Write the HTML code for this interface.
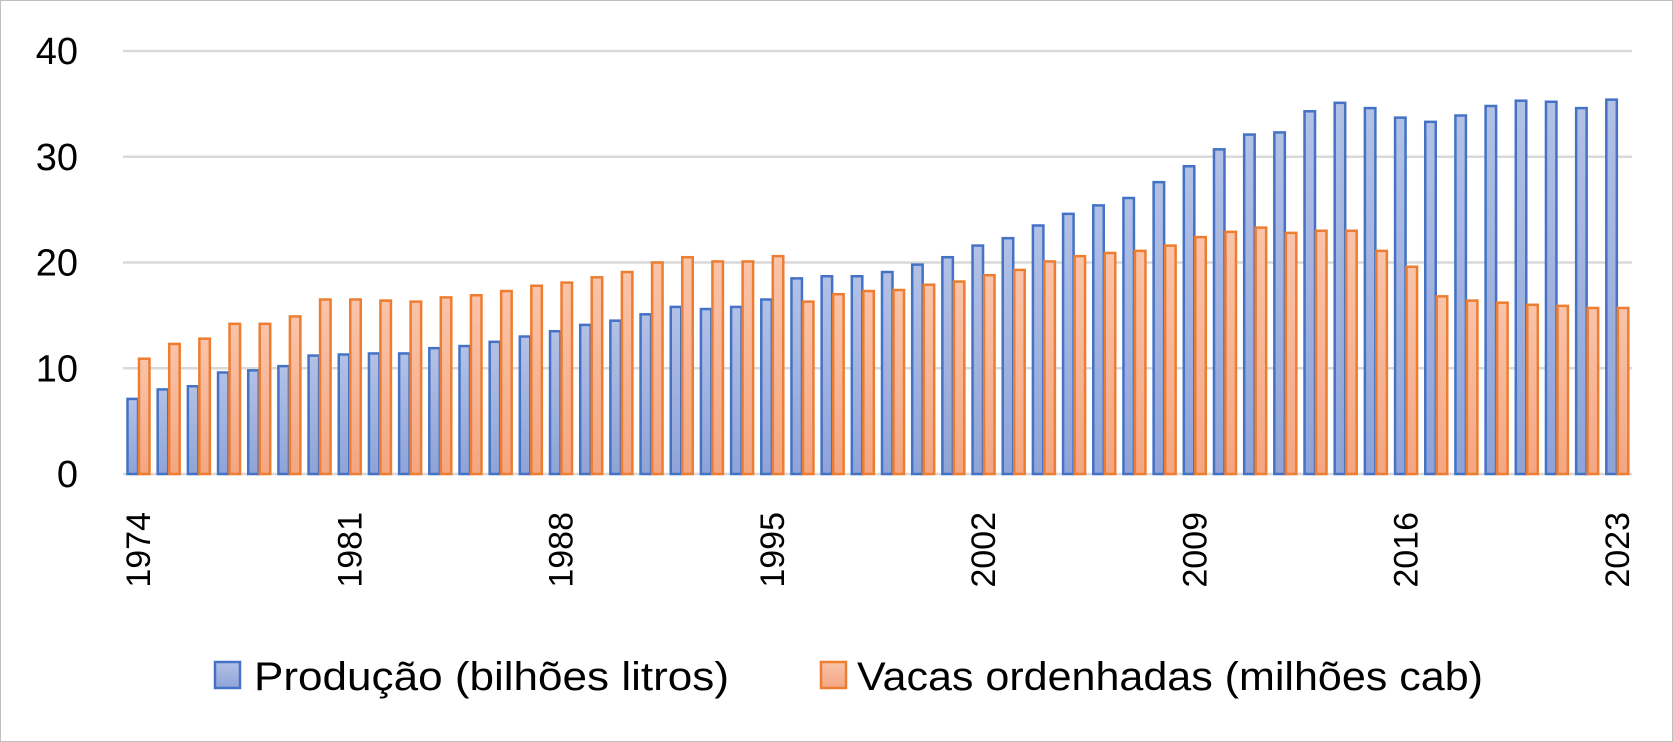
<!DOCTYPE html>
<html><head><meta charset="utf-8"><style>
html,body{margin:0;padding:0;background:#fff}
svg{display:block}
text{font-family:"Liberation Sans",sans-serif;fill:#000}
</style></head><body>
<svg id="c" width="1673" height="742" xmlns="http://www.w3.org/2000/svg">
<defs>
<linearGradient id="gb" x1="0" y1="0" x2="0" y2="1"><stop offset="0" stop-color="#b3c1e6"/><stop offset="1" stop-color="#8fa3d8"/></linearGradient>
<linearGradient id="go" x1="0" y1="0" x2="0" y2="1"><stop offset="0" stop-color="#f9c4aa"/><stop offset="1" stop-color="#f4a682"/></linearGradient>
</defs>
<rect x="0.5" y="0.5" width="1672" height="741" fill="#fff" stroke="#bfbfbf"/>
<g id="g"></g>
</svg>
<script>
var B=[7.1,8.0,8.3,9.6,9.8,10.2,11.2,11.3,11.4,11.4,11.9,12.1,12.5,13.0,13.5,14.1,14.5,15.1,15.8,15.6,15.8,16.5,18.5,18.7,18.7,19.1,19.8,20.5,21.6,22.3,23.5,24.6,25.4,26.1,27.6,29.1,30.7,32.1,32.3,34.3,35.1,34.6,33.7,33.3,33.9,34.8,35.3,35.2,34.6,35.4];
var O=[10.9,12.3,12.8,14.2,14.2,14.9,16.5,16.5,16.4,16.3,16.7,16.9,17.3,17.8,18.1,18.6,19.1,20.0,20.5,20.1,20.1,20.6,16.3,17.0,17.3,17.4,17.9,18.2,18.8,19.3,20.1,20.6,20.9,21.1,21.6,22.4,22.9,23.3,22.8,23.0,23.0,21.1,19.6,16.8,16.4,16.2,16.0,15.9,15.7,15.7];
var L=123,R=1632,Y0=474,S=10.575,W=(R-L)/50,s='';
for(var v=0;v<=40;v+=10){var y=Y0-v*S;s+='<line x1="'+L+'" x2="'+R+'" y1="'+y+'" y2="'+y+'" stroke="#d9d9d9" stroke-width="2.5"/>';
s+='<text x="78" y="'+(y+13)+'" font-size="38" text-anchor="end">'+v+'</text>';}
for(var i=0;i<50;i++){var x=L+i*W+4.5,bw=10.5;
var h=B[i]*S;s+='<rect x="'+x+'" y="'+(Y0-h)+'" width="'+bw+'" height="'+h+'" fill="url(#gb)" stroke="#4472c4" stroke-width="2.5"/>';
h=O[i]*S;s+='<rect x="'+(x+bw+1)+'" y="'+(Y0-h)+'" width="'+bw+'" height="'+h+'" fill="url(#go)" stroke="#ed7d31" stroke-width="2.5"/>';
if(i%7==0){var cx=L+i*W+W/2+12;s+='<text transform="translate('+cx+',512) rotate(-90)" font-size="34" text-anchor="end">'+(1974+i)+'</text>';}}
s+='<rect x="215" y="662" width="25" height="26" fill="url(#gb)" stroke="#4472c4" stroke-width="2.5"/>';
s+='<text x="254" y="690" font-size="40" textLength="475" lengthAdjust="spacingAndGlyphs">Produção (bilhões litros)</text>';
s+='<rect x="821" y="662" width="25" height="26" fill="url(#go)" stroke="#ed7d31" stroke-width="2.5"/>';
s+='<text x="857" y="690" font-size="40" textLength="626" lengthAdjust="spacingAndGlyphs">Vacas ordenhadas (milhões cab)</text>';
document.getElementById('g').innerHTML=s;
</script>
</body></html>
